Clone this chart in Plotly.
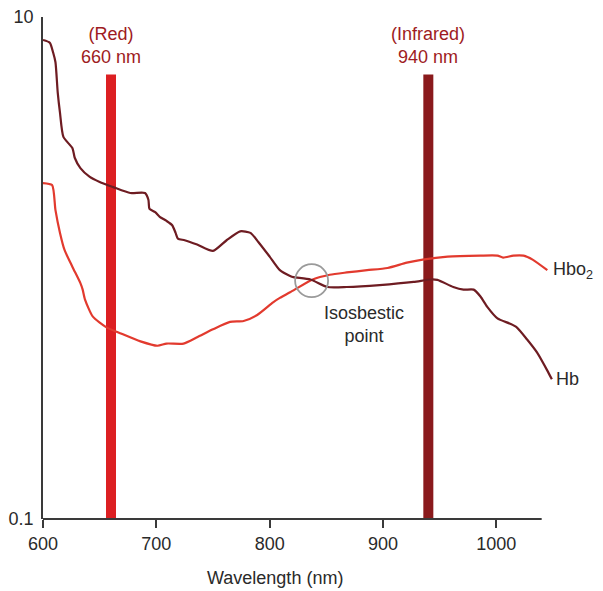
import plotly.graph_objects as go
import math

# ---- data ----
hb_nm = [600, 606, 609, 611, 613, 615, 618, 626, 628, 633, 641, 650, 662, 677, 690, 693,
         694, 699, 703, 709, 714, 717, 719, 725, 736, 750, 762, 774, 783, 790, 800, 809,
         818, 821, 836, 851, 868, 897, 927, 942, 948, 962, 971, 980, 986, 992, 1001, 1012,
         1018, 1027, 1036, 1045, 1049]
hb_val = [8.1, 7.9, 7.2, 6.6, 5.0, 4.15, 3.33, 3.0, 2.75, 2.50, 2.31, 2.20, 2.10, 1.99,
          1.99, 1.87, 1.72, 1.67, 1.60, 1.54, 1.48, 1.38, 1.31, 1.29, 1.24, 1.17, 1.29, 1.40,
          1.38, 1.27, 1.11, 0.98, 0.93, 0.92, 0.90, 0.84, 0.84, 0.855, 0.88, 0.90, 0.897,
          0.84, 0.82, 0.82, 0.77, 0.70, 0.63, 0.60, 0.58, 0.52, 0.46, 0.39, 0.36]

hbo2_nm = [600, 608, 611, 615, 619, 626, 633, 635, 637, 644, 656, 668, 686, 701, 709, 724,
           736, 750, 765, 777, 789, 803, 809, 818, 838, 853, 868, 886, 904, 921, 935, 957,
           986, 1001, 1006, 1015, 1024, 1032, 1045]
hbo2_val = [2.18, 2.14, 1.70, 1.38, 1.18, 1.01, 0.87, 0.82, 0.75, 0.64, 0.58, 0.55, 0.51,
            0.49, 0.50, 0.50, 0.53, 0.57, 0.61, 0.615, 0.65, 0.73, 0.76, 0.80, 0.90, 0.94,
            0.96, 0.98, 1.0, 1.05, 1.08, 1.11, 1.12, 1.12, 1.10, 1.12, 1.12, 1.08, 0.98]

led_nm = [660, 940]
led_names = ["(Red)<br>660 nm", "(Infrared)<br>940 nm"]
led_top = 5.9
axis_min = 0.1

isosbestic_nm = 837
isosbestic_val = 0.89

x_ticks = [600, 700, 800, 900, 1000]
x_axis_end = 1040
y_ticks = [0.1, 10]
y_tick_text = ["0.1", "10"]

# ---- styles ----
FONT = "Liberation Sans, Arial, sans-serif"
C_RED_BAR = "#dc1f22"
C_IR_BAR = "#8a1a1c"
C_HBO2 = "#e23a2e"
C_HB = "#6e1c22"
C_LABEL = "#9e1b22"
C_TEXT = "#2a2a2a"
C_AXIS = "#3a3a3a"

fig = go.Figure()

bar_colors = [C_RED_BAR, C_IR_BAR]
for nm, col in zip(led_nm, bar_colors):
    fig.add_trace(go.Scatter(x=[nm, nm], y=[axis_min, led_top], mode="lines",
                             line=dict(color=col, width=10), hoverinfo="skip"))

fig.add_trace(go.Scatter(x=hbo2_nm, y=hbo2_val, mode="lines",
                         line=dict(color=C_HBO2, width=2.2, shape="spline", smoothing=0.6),
                         name="Hbo2"))
fig.add_trace(go.Scatter(x=hb_nm, y=hb_val, mode="lines",
                         line=dict(color=C_HB, width=2.2, shape="spline", smoothing=0.6),
                         name="Hb"))

fig.add_trace(go.Scatter(x=[isosbestic_nm], y=[isosbestic_val], mode="markers",
                         marker=dict(symbol="circle-open", size=33, color="#9a9a9a",
                                     line=dict(color="#9a9a9a", width=1.8)),
                         hoverinfo="skip"))

for nm, txt in zip(led_nm, led_names):
    fig.add_annotation(x=nm, y=0.888, xref="x", yref="y", text=txt, showarrow=False,
                       font=dict(family=FONT, size=18, color=C_LABEL),
                       xanchor="center", yanchor="middle")

fig.add_annotation(x=883, y=-0.227, xref="x", yref="y", text="Isosbestic<br>point",
                   showarrow=False, font=dict(family=FONT, size=18, color=C_TEXT),
                   xanchor="center", yanchor="middle")

fig.add_annotation(x=hbo2_nm[-1], y=math.log10(hbo2_val[-1]), xref="x", yref="y",
                   text="Hbo<sub>2</sub>", showarrow=False, xanchor="left", xshift=4,
                   yanchor="middle", font=dict(family=FONT, size=18, color=C_TEXT))
fig.add_annotation(x=hb_nm[-1], y=math.log10(hb_val[-1]), xref="x", yref="y",
                   text="Hb", showarrow=False, xanchor="left", xshift=2,
                   yanchor="middle", font=dict(family=FONT, size=18, color=C_TEXT))

fig.add_annotation(x=805, y=-0.1175, xref="x", yref="paper", text="Wavelength (nm)",
                   showarrow=False, xanchor="center", yanchor="middle",
                   font=dict(family=FONT, size=18, color=C_TEXT))

# x axis baseline (shorter than the plotting range, as in the reference)
fig.add_shape(type="line", xref="x", yref="paper", x0=x_ticks[0], x1=x_axis_end,
              y0=0, y1=0, line=dict(color=C_AXIS, width=1.8), layer="above")

fig.update_layout(
    width=603, height=591,
    margin=dict(l=43, r=50, t=17, b=72),
    paper_bgcolor="white", plot_bgcolor="white",
    showlegend=False,
    font=dict(family=FONT, size=18, color=C_TEXT),
    xaxis=dict(range=[600, 1050], tickvals=x_ticks, showgrid=False, zeroline=False,
               showline=False, automargin=False,
               ticks="outside", ticklen=8, tickwidth=1.8, tickcolor=C_AXIS,
               tickfont=dict(family=FONT, size=18, color=C_TEXT)),
    yaxis=dict(type="log", range=[-1, 1], tickvals=y_ticks, ticktext=y_tick_text,
               showgrid=False, zeroline=False, showline=True, linecolor=C_AXIS,
               linewidth=1.8, ticks="", ticklabelstandoff=4, automargin=False,
               tickfont=dict(family=FONT, size=18, color=C_TEXT)),
)

fig.write_html("out.html", config={"displayModeBar": False},
               post_script="document.body.style.margin='0';document.body.style.padding='0';")
